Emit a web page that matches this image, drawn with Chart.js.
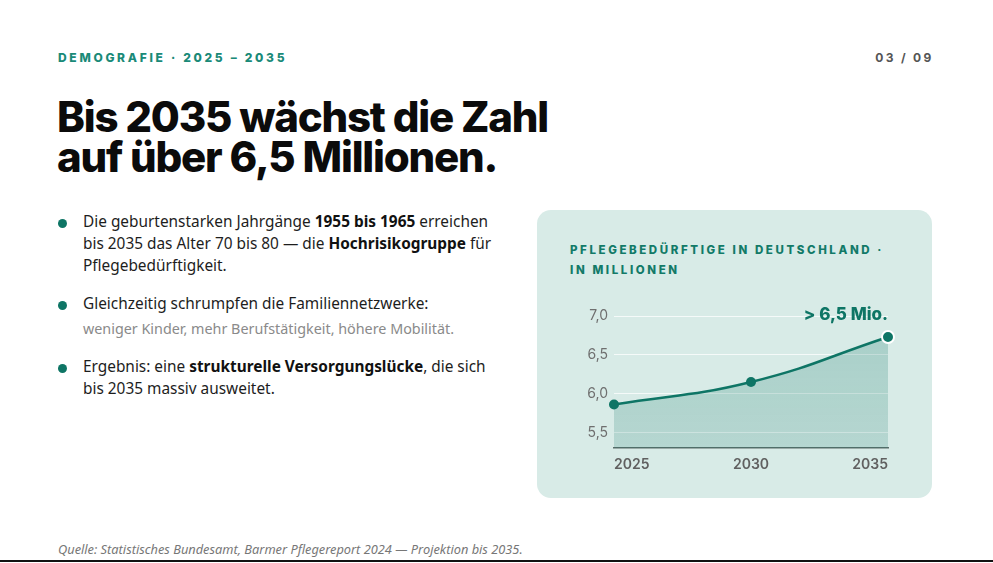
<!DOCTYPE html>
<html lang="de">
<head>
<meta charset="utf-8">
<script src="https://cdn.jsdelivr.net/npm/chart.js@4"></script>
<style>
  html,body{margin:0;padding:0;background:#fff;}
  body{width:993px;height:563px;position:relative;overflow:hidden;font-family:Inter, "Noto Sans", sans-serif;}
  .kicker{position:absolute;left:58px;top:50px;font-size:12px;font-weight:800;letter-spacing:2.7px;color:#1a8a78;}
  .page{position:absolute;right:59.5px;top:50px;font-size:12px;font-weight:700;letter-spacing:2.3px;color:#555;}
  h1{position:absolute;left:57px;top:97px;margin:0;font-size:42px;line-height:40px;font-weight:800;letter-spacing:-1.2px;color:#0b0b0b;}
  h1 span{display:block;height:40px;line-height:40px;}
  ul{position:absolute;left:58px;top:211px;margin:0;padding:0;list-style:none;width:460px;font-family:"Noto Sans",sans-serif;font-size:15.4px;line-height:22px;color:#1d1d1d;white-space:nowrap;}
  li{position:relative;padding-left:25px;margin-bottom:16px;}
  li:before{content:"";position:absolute;left:0;top:8px;width:9px;height:9px;border-radius:50%;background:#0e7565;}
  li b{font-weight:700;color:#111;}
  .sub{font-size:14.35px;color:#8a8a8a;display:block;margin-top:3px;}
  .card{position:absolute;left:537px;top:210px;width:395px;height:288px;background:#d8ebe7;border-radius:14px;}
  .ctitle{position:absolute;left:33px;top:30px;font-size:11.5px;line-height:20px;font-weight:800;letter-spacing:2.6px;color:#127a68;}
  .src{position:absolute;left:58px;top:540px;font-family:"Noto Sans",sans-serif;font-style:italic;font-size:12.8px;color:#777;}
  .rule{position:absolute;left:0;top:560px;width:993px;height:2px;background:#111;}
  #wrap{position:absolute;left:570px;top:296px;width:330px;height:180px;}
</style>
</head>
<body>
<div class="kicker">DEMOGRAFIE · 2025 – 2035</div>
<div class="page">03 / 09</div>
<h1><span>Bis 2035 wächst die Zahl</span><span>auf über 6,5 Millionen.</span></h1>
<ul>
  <li>Die geburtenstarken Jahrgänge <b>1955 bis 1965</b> erreichen<br>bis 2035 das Alter 70 bis 80 — die <b>Hochrisikogruppe</b> für<br>Pflegebedürftigkeit.</li>
  <li>Gleichzeitig schrumpfen die Familiennetzwerke:<span class="sub">weniger Kinder, mehr Berufstätigkeit, höhere Mobilität.</span></li>
  <li>Ergebnis: eine <b>strukturelle Versorgungslücke</b>, die sich<br>bis 2035 massiv ausweitet.</li>
</ul>
<div class="card">
  <div class="ctitle">PFLEGEBEDÜRFTIGE IN DEUTSCHLAND ·<br>IN MILLIONEN</div>
</div>
<div id="wrap"><canvas id="c"></canvas></div>
<div class="src">Quelle: Statistisches Bundesamt, Barmer Pflegereport 2024 — Projektion bis 2035.</div>
<div class="rule"></div>
<script>
const years = ["2025", "2030", "2035"];
const pflegeMio = [5.86, 6.15, 6.73];
const yTicks = [5.5, 6.0, 6.5, 7.0];
const calloutText = "> 6,5 Mio.";

const teal = "#0e7565";

const callout = {
  id: "callout",
  afterDatasetsDraw(chart) {
    const {ctx, scales} = chart;
    const meta = chart.getDatasetMeta(0);
    const last = meta.data[meta.data.length - 1];
    ctx.save();
    ctx.font = "800 17px Inter, sans-serif";
    ctx.fillStyle = teal;
    ctx.textAlign = "right";
    ctx.textBaseline = "middle";
    ctx.fillText(calloutText, last.x, scales.y.getPixelForValue(yTicks[yTicks.length - 1]) - 1);
    ctx.restore();
  }
};

new Chart(document.getElementById("c"), {
  type: "line",
  data: {
    labels: years,
    datasets: [{
      data: pflegeMio,
      borderColor: teal,
      borderWidth: 2.5,
      tension: 0.45,
      fill: "start",
      backgroundColor: (ctx) => {
        const a = ctx.chart.chartArea;
        if (!a) return "rgba(14,117,101,0.2)";
        const g = ctx.chart.ctx.createLinearGradient(0, a.top, 0, a.bottom);
        g.addColorStop(0, "rgba(14,117,101,0.24)");
        g.addColorStop(1, "rgba(14,117,101,0.17)");
        return g;
      },
      pointRadius: [5, 5, 6],
      pointBackgroundColor: teal,
      pointBorderColor: ["rgba(0,0,0,0)", "rgba(0,0,0,0)", "#ffffff"],
      pointBorderWidth: [0, 0, 2],
      clip: false
    }]
  },
  options: {
    responsive: true,
    maintainAspectRatio: false,
    animation: false,
    layout: {padding: {top: 20, right: 12, left: 0, bottom: 0}},
    plugins: {legend: {display: false}, tooltip: {enabled: false}},
    scales: {
      x: {
        type: "category",
        offset: false,
        grid: {display: false, drawTicks: false},
        border: {display: true, color: "#5d6d6a", width: 1.5},
        ticks: {align: "inner", color: "#606060", padding: 8, font: {family: "Inter", size: 14, weight: "600"}, maxRotation: 0},
        afterFit(s) { s.height = 28; }
      },
      y: {
        min: 5.3,
        max: 7.0,
        grid: {color: "rgba(255,255,255,0.75)", lineWidth: 1, drawTicks: false},
        border: {display: false},
        ticks: {
          color: "#6f6f6f", padding: 6, font: {family: "Inter", size: 14},
          callback: (v) => v.toFixed(1).replace(".", ",")
        },
        afterBuildTicks(s) { s.ticks = yTicks.map(v => ({value: v})); },
        afterFit(s) { s.width = 44; }
      }
    }
  },
  plugins: [callout]
});
</script>
</body>
</html>
